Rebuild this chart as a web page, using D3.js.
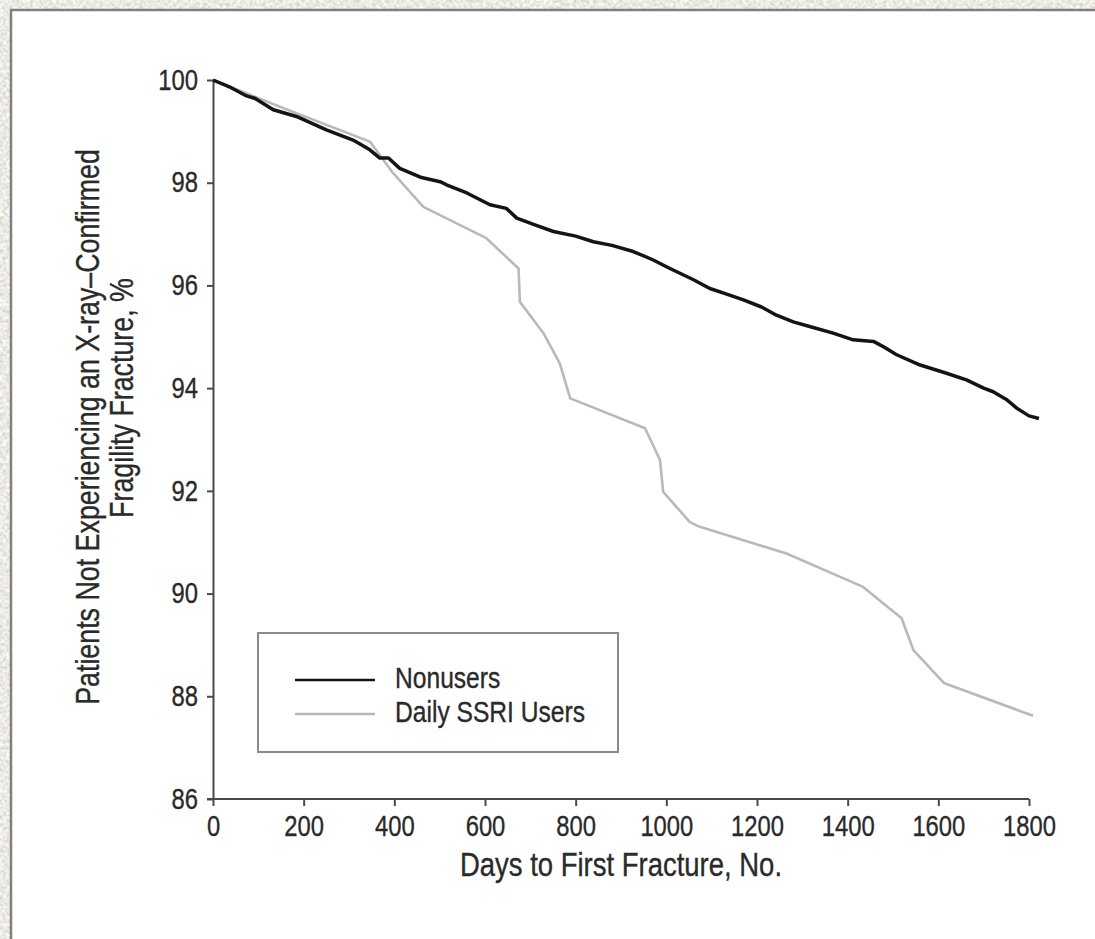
<!DOCTYPE html>
<html>
<head>
<meta charset="utf-8">
<script src="https://cdn.jsdelivr.net/npm/d3@7"></script>
<style>
  html, body { margin: 0; padding: 0; background: #dcd9d2; }
  svg { display: block; }
  text { font-family: "Liberation Sans", Arial, sans-serif; fill: #2a2a2a; stroke: #2a2a2a; stroke-width: 0.35px; }
</style>
</head>
<body>
<svg id="chart" width="1095" height="939"></svg>
<script>
// Kaplan-Meier style survival curves: share of patients without a fragility fracture
const nonuserDays = [0, 40, 74, 93, 133, 184, 250, 309, 346, 368, 387, 412, 460, 501, 515, 560, 611, 647, 670, 710, 751, 800, 839, 880, 927, 970, 1008, 1060, 1096, 1130, 1170, 1210, 1243, 1280, 1320, 1368, 1412, 1457, 1480, 1508, 1560, 1618, 1662, 1700, 1721, 1750, 1773, 1800, 1822];
const nonuserPct  = [100, 99.85, 99.69, 99.64, 99.42, 99.29, 99.03, 98.83, 98.64, 98.48, 98.48, 98.28, 98.10, 98.02, 97.96, 97.80, 97.57, 97.50, 97.31, 97.18, 97.05, 96.96, 96.85, 96.78, 96.66, 96.50, 96.33, 96.11, 95.94, 95.84, 95.72, 95.58, 95.42, 95.29, 95.19, 95.07, 94.94, 94.91, 94.80, 94.65, 94.45, 94.29, 94.16, 94.00, 93.93, 93.78, 93.61, 93.46, 93.41];

const ssriDays = [0, 170, 346, 397, 464, 603, 674, 677, 729, 765, 788, 953, 986, 993, 1052, 1074, 1265, 1434, 1519, 1545, 1612, 1809];
const ssriPct  = [100, 99.40, 98.80, 98.19, 97.53, 96.92, 96.33, 95.68, 95.07, 94.48, 93.80, 93.22, 92.60, 91.98, 91.39, 91.30, 90.78, 90.13, 89.52, 88.90, 88.26, 87.62];

const xTicks = [0, 200, 400, 600, 800, 1000, 1200, 1400, 1600, 1800];
const yTicks = [86, 88, 90, 92, 94, 96, 98, 100];

const seriesNames = ["Nonusers", "Daily SSRI Users"];
const seriesColors = ["#141414", "#b9b9b9"];
const seriesWidths = [3.5, 2.6];

const xTitle = "Days to First Fracture, No.";
const yTitleLines = ["Patients Not Experiencing an X-ray\u2013Confirmed", "Fragility Fracture, %"];

// condensed type: squeeze each label horizontally to a narrow width
const NARROW = 0.82;
function condense(sel) {
  sel.each(function () {
    const w = this.getComputedTextLength();
    d3.select(this).attr("textLength", w * NARROW).attr("lengthAdjust", "spacingAndGlyphs");
  });
}

const svg = d3.select("#chart");

// speckled paper backdrop
const defs = svg.append("defs");
const f = defs.append("filter").attr("id", "paper").attr("x", 0).attr("y", 0).attr("width", "100%").attr("height", "100%");
f.append("feTurbulence").attr("type", "fractalNoise").attr("baseFrequency", 0.3).attr("numOctaves", 3).attr("seed", 7).attr("result", "noise");
f.append("feColorMatrix").attr("in", "noise").attr("type", "matrix")
  .attr("values", "0.55 0 0 0 0.57  0.55 0 0 0 0.55  0.55 0 0 0 0.51  0 0 0 0 1");
svg.append("rect").attr("width", 1095).attr("height", 939).attr("fill", "#e0ddd6").attr("filter", "url(#paper)");

// white panel
svg.append("rect").attr("x", 11).attr("y", 10).attr("width", 1120).attr("height", 960)
  .attr("fill", "#ffffff").attr("stroke", "#808080").attr("stroke-width", 2.5);

const x = d3.scaleLinear().domain([0, 1800]).range([213, 1029]);
const y = d3.scaleLinear().domain([86, 100]).range([799, 80]);

// axes
const xAxis = svg.append("g").attr("transform", `translate(0,${y(86)})`)
  .call(d3.axisBottom(x).tickValues(xTicks).tickFormat(d3.format("d")).tickSize(7).tickPadding(9).tickSizeOuter(0));
const yAxis = svg.append("g").attr("transform", `translate(${x(0)},0)`)
  .call(d3.axisLeft(y).tickValues(yTicks).tickFormat(d3.format("d")).tickSize(6).tickPadding(9).tickSizeOuter(0));

[xAxis, yAxis].forEach(g => {
  g.select(".domain").attr("stroke", "#4a4a4a").attr("stroke-width", 2);
  g.selectAll(".tick line").attr("stroke", "#4a4a4a").attr("stroke-width", 2);
  g.selectAll(".tick text").attr("font-size", 29).attr("fill", "#2a2a2a")
    .style("font-family", '"Liberation Sans", Arial, sans-serif')
    .call(condense);
});
// extend x axis line to the left so it meets the 86 tick
xAxis.select(".domain").attr("d", `M${x(0) - 6},0H${x(1800)}`);

// curves
const line = d3.line().x(d => x(d[0])).y(d => y(d[1])).curve(d3.curveLinear);
const nonuser = nonuserDays.map((d, i) => [d, nonuserPct[i]]);
const ssri = ssriDays.map((d, i) => [d, ssriPct[i]]);

svg.append("path").datum(ssri).attr("d", line)
  .attr("fill", "none").attr("stroke", seriesColors[1]).attr("stroke-width", seriesWidths[1]).attr("stroke-linejoin", "round");
svg.append("path").datum(nonuser).attr("d", line)
  .attr("fill", "none").attr("stroke", seriesColors[0]).attr("stroke-width", seriesWidths[0]).attr("stroke-linejoin", "round");

// axis titles
svg.append("text").attr("x", (x(0) + x(1800)) / 2).attr("y", 876)
  .attr("text-anchor", "middle").attr("font-size", 33.5).text(xTitle).call(condense);

svg.append("text").attr("transform", "translate(99,427) rotate(-90)")
  .attr("text-anchor", "middle").attr("font-size", 32.7).text(yTitleLines[0]).call(condense);
svg.append("text").attr("transform", "translate(133,398) rotate(-90)")
  .attr("text-anchor", "middle").attr("font-size", 32.7).text(yTitleLines[1]).call(condense);

// legend
const lg = svg.append("g");
lg.append("rect").attr("x", 258).attr("y", 633).attr("width", 360).attr("height", 119)
  .attr("fill", "#ffffff").attr("stroke", "#8a8a8a").attr("stroke-width", 2);
seriesNames.forEach((name, i) => {
  const ly = 680 + i * 34;
  lg.append("line").attr("x1", 295).attr("x2", 375).attr("y1", ly).attr("y2", ly)
    .attr("stroke", seriesColors[i]).attr("stroke-width", i === 0 ? 2.6 : 2.4);
  lg.append("text").attr("x", 395).attr("y", ly + 8).attr("font-size", 30).text(name).call(condense);
});
</script>
</body>
</html>
